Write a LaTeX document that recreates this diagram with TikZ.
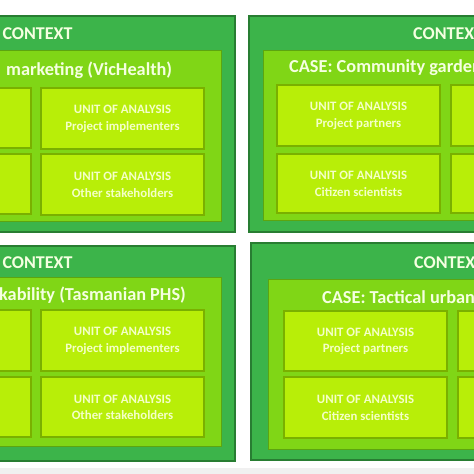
\documentclass[tikz,border=0pt]{standalone}
\usepackage{fontspec}
\setmainfont{Carlito}
\definecolor{outerfill}{RGB}{60,180,74}
\definecolor{outerline}{RGB}{40,125,50}
\definecolor{midfill}{RGB}{128,214,22}
\definecolor{midline}{RGB}{92,165,16}
\definecolor{unitfill}{RGB}{184,238,8}
\definecolor{unitline}{RGB}{122,176,0}
\definecolor{txtlight}{RGB}{245,255,225}
\definecolor{unittxt}{RGB}{244,255,200}
\definecolor{stripgray}{RGB}{240,240,240}
\tikzset{
  outerbox/.style={draw=outerline, fill=outerfill, line width=1.2pt},
  midbox/.style={draw=midline, fill=midfill, line width=1pt},
  unitbox/.style={draw=unitline, fill=unitfill, line width=1.2pt},
  ctxlabel/.style={text=txtlight, font=\bfseries\fontsize{18}{20}\selectfont, inner sep=0pt},
  caselabel/.style={text=txtlight, font=\bfseries\fontsize{18.3}{20}\selectfont, inner sep=0pt},
  unitlabel/.style={text=unittxt, font=\bfseries\fontsize{12.8}{16.5}\selectfont, align=center, inner sep=0pt},
}
\begin{document}
\begin{tikzpicture}[x=1pt,y=-1pt]
\useasboundingbox (0,0) rectangle (474,474);
\clip (0,0) rectangle (474,474);
\fill[white] (0,0) rectangle (474,474);
\fill[stripgray] (0,468) rectangle (474,474);
% ---------- top left ----------
\draw[outerbox] (-163,16) rectangle (235,232);
\draw[midbox] (-149,50) rectangle (221,221);
\draw[unitbox] (-132,88) rectangle (31,148);
\draw[unitbox] (-132,154) rectangle (31,214);
\draw[unitbox] (41,88) rectangle (204,149);
\draw[unitbox] (41,154) rectangle (204,215);
\node[ctxlabel] (tlctx) at (37.5,34) {CONTEXT};
\node[caselabel, anchor=west] (tlcase) at (6,70) {marketing (VicHealth)};
\node[unitlabel] (tlu1) at (122.5,119) {UNIT OF ANALYSIS\\Project implementers};
\node[unitlabel] (tlu2) at (122.5,185) {UNIT OF ANALYSIS\\Other stakeholders};
% ---------- top right ----------
\draw[outerbox] (249,16) rectangle (642,232);
\draw[midbox] (263,50) rectangle (628,220);
\draw[unitbox] (277,85) rectangle (440,146);
\draw[unitbox] (451,85) rectangle (614,146);
\draw[unitbox] (277,154) rectangle (440,213);
\draw[unitbox] (451,154) rectangle (614,213);
\node[ctxlabel, anchor=west] (trctx) at (413,34) {CONTEX};
\node[caselabel, anchor=west] (trcase) at (289,68) {CASE: Community garden};
\node[unitlabel] (tru1) at (358.5,116) {UNIT OF ANALYSIS\\Project partners};
\node[unitlabel] (tru2) at (358.5,184) {UNIT OF ANALYSIS\\Citizen scientists};
% ---------- bottom left ----------
\draw[outerbox] (-163,246) rectangle (235,461);
\draw[midbox] (-149,277) rectangle (221,446);
\draw[unitbox] (-132,310) rectangle (31,371);
\draw[unitbox] (-132,377) rectangle (31,437);
\draw[unitbox] (41,310) rectangle (204,371);
\draw[unitbox] (41,377) rectangle (204,437);
\node[ctxlabel] (blctx) at (37.5,263) {CONTEXT};
\node[caselabel, anchor=east] (blcase) at (186,295) {kability (Tasmanian PHS)};
\node[unitlabel] (blu1) at (122.5,341) {UNIT OF ANALYSIS\\Project implementers};
\node[unitlabel] (blu2) at (122.5,407.5) {UNIT OF ANALYSIS\\Other stakeholders};
% ---------- bottom right ----------
\draw[outerbox] (251,243) rectangle (651,460);
\draw[midbox] (268,279) rectangle (637,449);
\draw[unitbox] (284,311) rectangle (447,371);
\draw[unitbox] (458,311) rectangle (621,371);
\draw[unitbox] (284,377) rectangle (447,438);
\draw[unitbox] (458,377) rectangle (621,438);
\node[ctxlabel, anchor=west] (brctx) at (414,263) {CONTEX};
\node[caselabel, anchor=west] (brcase) at (322,297) {CASE: Tactical urban};
\node[unitlabel] (bru1) at (365.5,341.5) {UNIT OF ANALYSIS\\Project partners};
\node[unitlabel] (bru2) at (365.5,408) {UNIT OF ANALYSIS\\Citizen scientists};
\end{tikzpicture}
\end{document}
